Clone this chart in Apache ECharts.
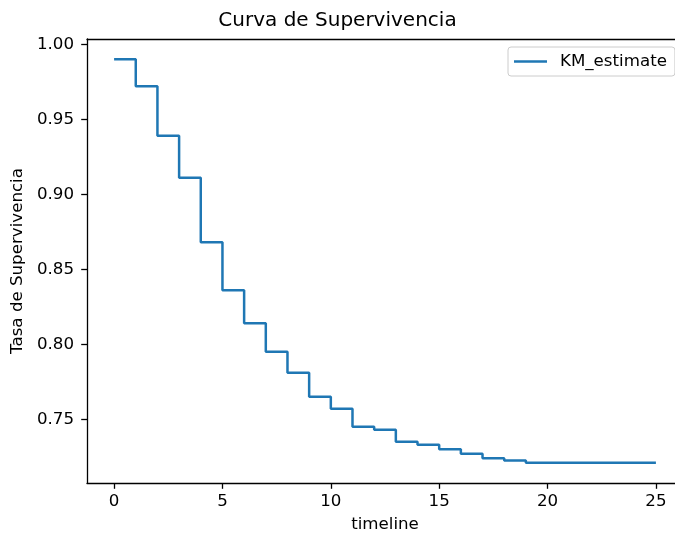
<!DOCTYPE html>
<html>
<head>
<meta charset="utf-8">
<script src="https://cdn.jsdelivr.net/npm/echarts@6/dist/echarts.min.js"></script>
<style>html,body{margin:0;padding:0;background:#fff}#c{width:675px;height:534px}</style>
</head>
<body>
<div id="c"></div>
<script>
var timeline = [0,1,2,3,4,5,6,7,8,9,10,11,12,13,14,15,16,17,18,19,25];
var kmEstimate = [0.990,0.972,0.939,0.911,0.868,0.836,0.814,0.795,0.781,0.765,0.757,0.745,0.743,0.735,0.733,0.730,0.727,0.724,0.7225,0.721,0.721];
var xTicks = [0,5,10,15,20,25];
var yTicks = [0.75,0.80,0.85,0.90,0.95,1.00];
var seriesName = 'KM_estimate';

var F = 'DejaVu Sans';
var FS = 16.67;
var spine = {show:true, onZero:false, lineStyle:{color:'#000', width:1.3}};
var chart = echarts.init(document.getElementById('c'), null, {renderer:'canvas'});
chart.setOption({
  animation:false,
  backgroundColor:'#fff',
  title:{text:'Curva de Supervivencia', left:'center', top:11, padding:0, textStyle:{fontFamily:F, fontSize:20, fontWeight:'normal', color:'#000'}},
  grid:{left:87, top:39, bottom:51, right:-8, containLabel:false, outerBoundsMode:'none', show:false},
  legend:{left:508, top:47, padding:[6,8,6,6], itemWidth:33, itemHeight:2.5,
    icon:'path://M0 0H33V2.5H0Z',
    backgroundColor:'rgba(255,255,255,0.8)', borderColor:'#cccccc', borderWidth:1, borderRadius:3,
    textStyle:{fontFamily:F, fontSize:FS, color:'#000', padding:[0,0,0,8]},
    data:[seriesName]},
  xAxis:[{type:'value', min:-1.25, max:26.25, position:'bottom',
    name:'timeline', nameLocation:'middle', nameGap:33, nameTextStyle:{fontFamily:F, fontSize:FS, color:'#000'},
    axisLine:spine, splitLine:{show:false},
    axisTick:{show:true, inside:false, length:5.8, lineStyle:{color:'#000', width:1.3}, customValues:xTicks},
    axisLabel:{fontFamily:F, fontSize:FS, color:'#000', margin:10, customValues:xTicks, formatter:function(v){return String(v);}}},
   {type:'value', min:-1.25, max:26.25, position:'top',
    axisLine:spine, splitLine:{show:false}, axisTick:{show:false}, axisLabel:{show:false}}],
  yAxis:{type:'value', min:0.7075, max:1.0035,
    name:'Tasa de Supervivencia', nameLocation:'middle', nameRotate:90, nameGap:56, nameTextStyle:{fontFamily:F, fontSize:FS, color:'#000'},
    axisLine:spine, splitLine:{show:false},
    axisTick:{show:true, inside:false, length:5.8, lineStyle:{color:'#000', width:1.3}, customValues:yTicks},
    axisLabel:{fontFamily:F, fontSize:FS, color:'#000', margin:13, customValues:yTicks, formatter:function(v){return v.toFixed(2);}}},
  series:[{name:seriesName, type:'line', step:'end', showSymbol:false, symbol:'none', xAxisIndex:0,
    lineStyle:{color:'#1f77b4', width:2.5}, itemStyle:{color:'#1f77b4'},
    data:timeline.map(function(t,i){return [t,kmEstimate[i]];})}]
});
</script>
</body>
</html>
